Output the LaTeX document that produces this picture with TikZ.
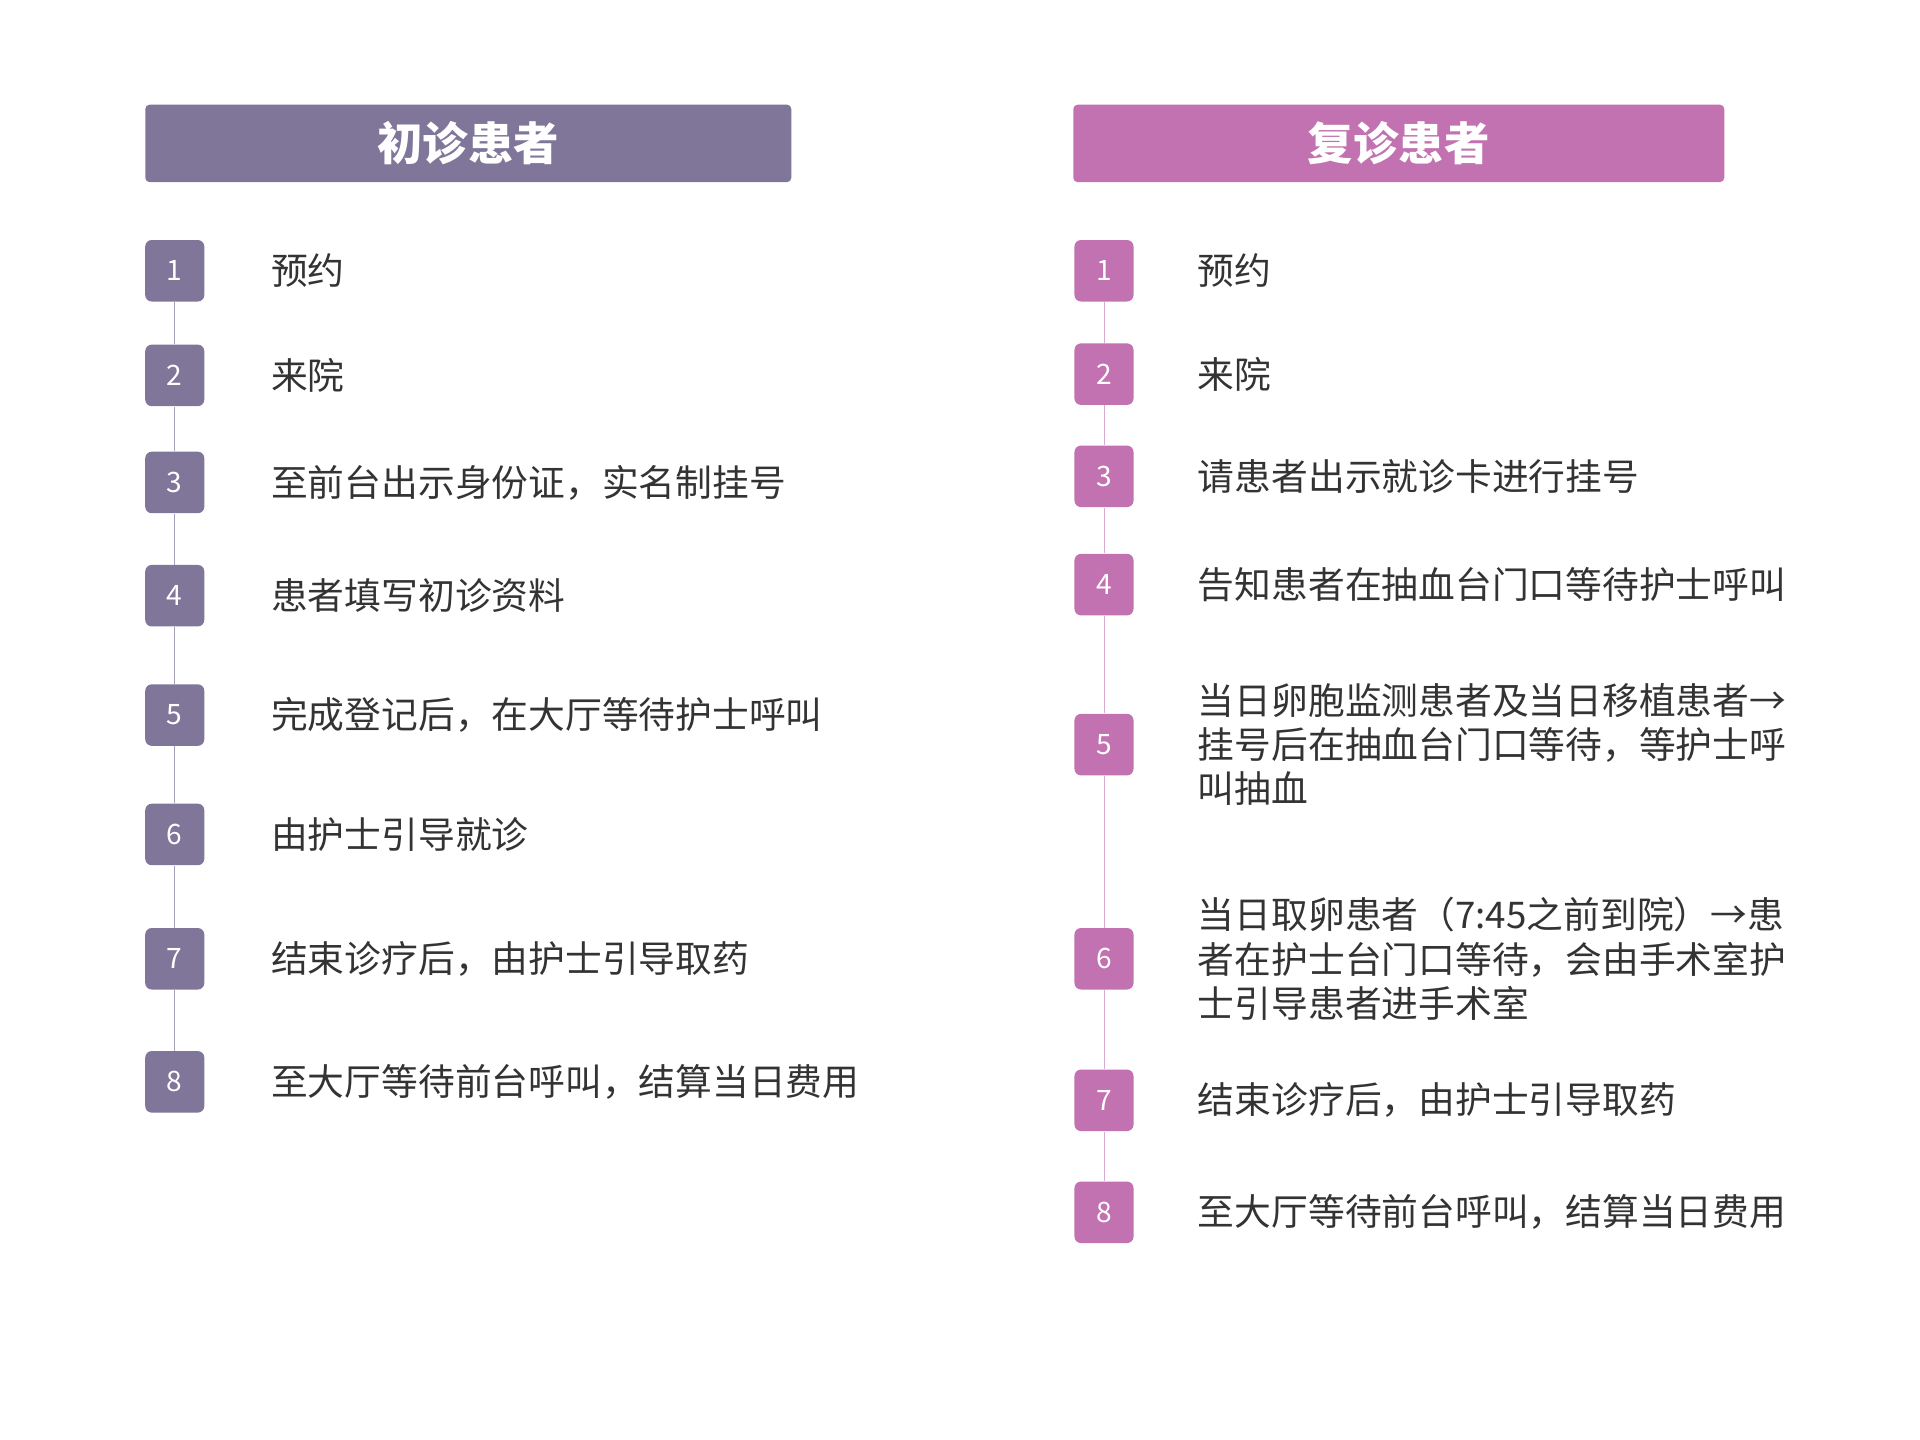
\documentclass[tikz,border=0pt]{standalone}
\usepackage{fontspec}
\setmainfont{Noto Sans CJK SC}
\usetikzlibrary{positioning}
\definecolor{firstcolor}{HTML}{7F7699}
\definecolor{againcolor}{HTML}{C272B0}
\definecolor{stepgray}{HTML}{333333}

\begin{document}
\begin{tikzpicture}[x=0.02cm, y=-0.02cm,
  header/.style={
    rectangle,
    rounded corners=2pt,
    minimum width=10.5cm,
    minimum height=1.26cm,
    font=\fontsize{21}{24}\selectfont\bfseries,
    text=white
  },
  stepbox/.style={
    rectangle,
    rounded corners=3pt,
    minimum width=0.96cm,
    minimum height=1cm,
    font=\fontsize{13}{15}\selectfont,
    text=white
  },
  steptext/.style={
    anchor=west,
    align=left,
    inner sep=0pt,
    font=\fontsize{17}{20.5}\selectfont,
    text=stepgray
  }
]
  \useasboundingbox (0,0) rectangle (1560,1170);

  % Left column
  \node[header, fill=firstcolor, minimum width=10.5cm] (lhead) at (380.5,116.5) {初诊患者};
  \foreach \n/\y/\t in {1/220/预约, 2/305/来院, 3/392/{至前台出示身份证，实名制挂号},
      4/484/患者填写初诊资料, 5/581/{完成登记后，在大厅等待护士呼叫},
      6/678/由护士引导就诊, 7/779/{结束诊疗后，由护士引导取药},
      8/879/{至大厅等待前台呼叫，结算当日费用}} {
    \node[stepbox, fill=firstcolor] (l\n) at (142,\y) {\n};
    \node[steptext] (lt\n) at (220,\y) {\t};
  }
  \foreach \a/\b in {1/2, 2/3, 3/4, 4/5, 5/6, 6/7, 7/8}
    \draw[firstcolor!70, thin] (l\a) -- (l\b);

  % Right column
  \node[header, fill=againcolor, minimum width=10.58cm] (rhead) at (1136.5,116.5) {复诊患者};
  \foreach \n/\y/\t in {1/220/预约, 2/304/来院, 3/387/请患者出示就诊卡进行挂号,
      4/475/告知患者在抽血台门口等待护士呼叫,
      5/605/{当日卵胞监测患者及当日移植患者→\\挂号后在抽血台门口等待，等护士呼\\叫抽血},
      6/779/{当日取卵患者（7:45之前到院）→患\\者在护士台门口等待，会由手术室护\\士引导患者进手术室},
      7/894/{结束诊疗后，由护士引导取药},
      8/985/{至大厅等待前台呼叫，结算当日费用}} {
    \node[stepbox, fill=againcolor] (r\n) at (897,\y) {\n};
    \node[steptext] (rt\n) at (973,\y) {\t};
  }
  \foreach \a/\b in {1/2, 2/3, 3/4, 4/5, 5/6, 6/7, 7/8}
    \draw[againcolor!60, thin] (r\a) -- (r\b);
\end{tikzpicture}
\end{document}
